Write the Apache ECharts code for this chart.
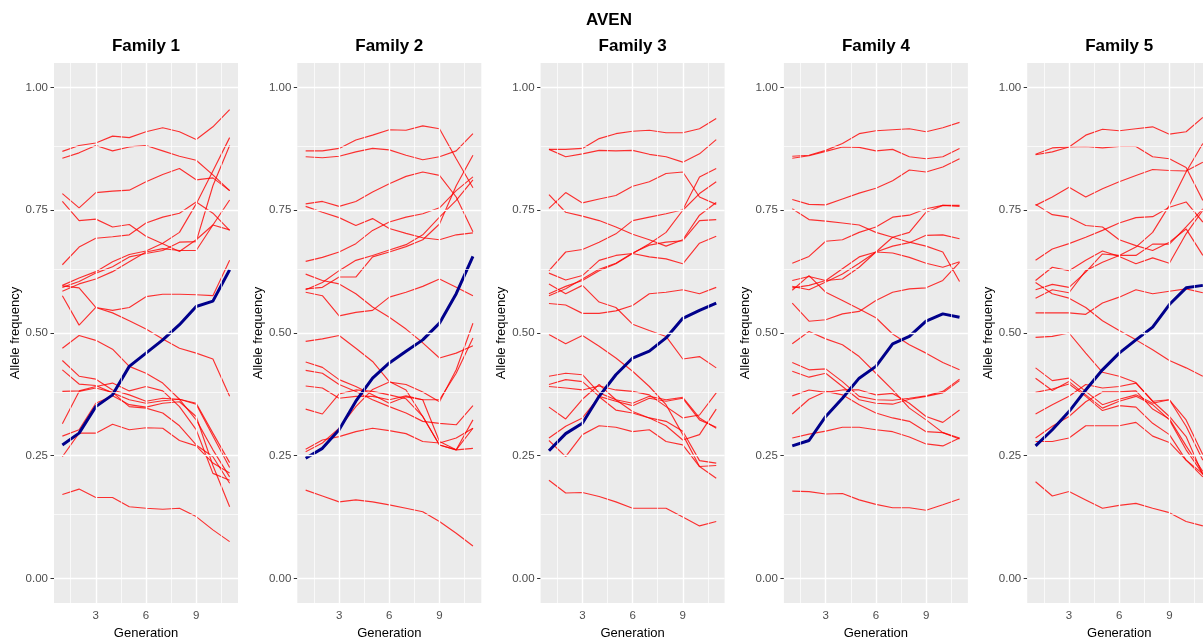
<!DOCTYPE html>
<html><head><meta charset="utf-8">
<script src="https://cdn.jsdelivr.net/npm/echarts@6/dist/echarts.min.js"></script>
<style>html,body{margin:0;padding:0;background:#fff}#c{width:1203px;height:640px}</style>
</head><body><div id="c"></div>
<script>
const mainTitle = 'AVEN';
const familyNames = ['Family 1', 'Family 2', 'Family 3', 'Family 4', 'Family 5'];
const generations = [1, 2, 3, 4, 5, 6, 7, 8, 9, 10, 11];
const xTickValues = [3, 6, 9];
const yTickValues = [0, 0.25, 0.5, 0.75, 1];
const xMinorGrid = [1.5, 4.5, 7.5, 10.5];
const yMinorGrid = [0.125, 0.375, 0.625, 0.875];

const fam1Blue = [0.272,0.296,0.350,0.374,0.432,0.459,0.486,0.517,0.554,0.565,0.629];
const fam1Red = [
  [0.870,0.882,0.887,0.901,0.898,0.910,0.918,0.910,0.894,0.920,0.955],
  [0.856,0.867,0.882,0.871,0.879,0.882,0.871,0.860,0.852,0.822,0.790],
  [0.784,0.755,0.786,0.789,0.791,0.808,0.823,0.835,0.812,0.816,0.790],
  [0.768,0.729,0.732,0.716,0.721,0.697,0.682,0.666,0.690,0.720,0.710],
  [0.639,0.675,0.693,0.696,0.700,0.724,0.736,0.744,0.767,0.744,0.709],
  [0.597,0.612,0.625,0.645,0.660,0.667,0.683,0.705,0.763,0.830,0.898],
  [0.593,0.605,0.622,0.635,0.655,0.662,0.668,0.685,0.686,0.800,0.882],
  [0.585,0.600,0.610,0.625,0.645,0.665,0.672,0.668,0.668,0.720,0.771],
  [0.596,0.592,0.552,0.541,0.525,0.508,0.488,0.469,0.459,0.447,0.371],
  [0.576,0.516,0.552,0.546,0.552,0.574,0.579,0.579,0.578,0.576,0.648],
  [0.469,0.495,0.485,0.467,0.432,0.418,0.398,0.365,0.323,0.262,0.207],
  [0.444,0.412,0.406,0.384,0.374,0.361,0.367,0.365,0.357,0.296,0.236],
  [0.425,0.396,0.393,0.378,0.364,0.357,0.362,0.365,0.355,0.290,0.226],
  [0.381,0.382,0.391,0.398,0.382,0.391,0.382,0.350,0.303,0.214,0.200],
  [0.315,0.381,0.388,0.379,0.350,0.347,0.337,0.311,0.272,0.248,0.194],
  [0.290,0.303,0.357,0.372,0.354,0.349,0.357,0.360,0.330,0.230,0.146],
  [0.248,0.296,0.296,0.314,0.303,0.307,0.306,0.281,0.270,0.235,0.215],
  [0.171,0.182,0.165,0.165,0.146,0.143,0.141,0.143,0.126,0.099,0.075]
];

const fam2Blue = [0.245,0.265,0.303,0.361,0.408,0.439,0.463,0.486,0.520,0.580,0.656];
const fam2Red = [
  [0.871,0.871,0.876,0.893,0.903,0.914,0.913,0.922,0.916,0.855,0.796],
  [0.859,0.857,0.860,0.869,0.876,0.873,0.862,0.853,0.859,0.871,0.906],
  [0.763,0.768,0.758,0.768,0.787,0.804,0.819,0.828,0.821,0.777,0.706],
  [0.758,0.746,0.735,0.719,0.733,0.713,0.703,0.694,0.690,0.700,0.704],
  [0.646,0.654,0.665,0.682,0.709,0.726,0.736,0.743,0.755,0.790,0.818],
  [0.590,0.593,0.614,0.614,0.655,0.665,0.676,0.690,0.722,0.800,0.862],
  [0.588,0.603,0.627,0.648,0.658,0.669,0.680,0.700,0.736,0.770,0.812],
  [0.583,0.576,0.535,0.542,0.546,0.573,0.583,0.595,0.610,0.593,0.576],
  [0.620,0.607,0.600,0.580,0.553,0.532,0.508,0.480,0.449,0.459,0.474],
  [0.483,0.488,0.495,0.469,0.442,0.401,0.384,0.330,0.272,0.262,0.265],
  [0.441,0.430,0.405,0.391,0.374,0.357,0.370,0.364,0.364,0.418,0.490],
  [0.424,0.418,0.395,0.381,0.364,0.350,0.337,0.320,0.316,0.313,0.352],
  [0.392,0.388,0.367,0.371,0.371,0.364,0.372,0.364,0.279,0.262,0.323],
  [0.345,0.335,0.376,0.384,0.381,0.374,0.366,0.330,0.272,0.262,0.306],
  [0.263,0.282,0.289,0.299,0.306,0.301,0.295,0.279,0.276,0.286,0.306],
  [0.258,0.276,0.306,0.350,0.385,0.400,0.395,0.380,0.360,0.425,0.520],
  [0.180,0.168,0.156,0.160,0.156,0.150,0.143,0.136,0.116,0.092,0.066]
];

const fam3Blue = [0.260,0.295,0.316,0.371,0.415,0.449,0.463,0.490,0.530,0.546,0.561];
const fam3Red = [
  [0.874,0.874,0.876,0.896,0.906,0.911,0.913,0.908,0.908,0.916,0.937],
  [0.874,0.859,0.865,0.872,0.871,0.872,0.864,0.859,0.848,0.865,0.894],
  [0.754,0.786,0.765,0.773,0.780,0.799,0.808,0.825,0.828,0.777,0.762],
  [0.782,0.746,0.738,0.729,0.716,0.701,0.690,0.677,0.690,0.740,0.766],
  [0.627,0.665,0.670,0.685,0.702,0.729,0.736,0.743,0.751,0.818,0.835],
  [0.622,0.608,0.617,0.648,0.658,0.662,0.655,0.651,0.641,0.683,0.697],
  [0.580,0.595,0.607,0.627,0.641,0.662,0.682,0.705,0.750,0.784,0.808],
  [0.576,0.590,0.610,0.630,0.642,0.663,0.679,0.685,0.688,0.729,0.731],
  [0.600,0.580,0.597,0.563,0.552,0.518,0.505,0.493,0.447,0.452,0.429],
  [0.560,0.557,0.540,0.540,0.545,0.556,0.580,0.583,0.588,0.580,0.593],
  [0.497,0.478,0.495,0.473,0.449,0.422,0.391,0.354,0.293,0.228,0.204],
  [0.412,0.418,0.415,0.378,0.364,0.357,0.371,0.364,0.369,0.327,0.306],
  [0.395,0.405,0.401,0.371,0.361,0.352,0.367,0.361,0.367,0.323,0.308],
  [0.391,0.388,0.384,0.392,0.384,0.381,0.374,0.350,0.327,0.333,0.378],
  [0.349,0.325,0.365,0.395,0.364,0.340,0.327,0.311,0.282,0.293,0.345],
  [0.286,0.310,0.327,0.370,0.343,0.337,0.327,0.320,0.300,0.240,0.235],
  [0.281,0.248,0.293,0.311,0.308,0.299,0.303,0.279,0.272,0.228,0.230],
  [0.200,0.174,0.175,0.167,0.156,0.143,0.143,0.143,0.125,0.107,0.116]
];

const fam4Blue = [0.270,0.281,0.330,0.367,0.408,0.432,0.478,0.493,0.524,0.539,0.532];
const fam4Red = [
  [0.860,0.862,0.872,0.886,0.906,0.912,0.914,0.916,0.910,0.918,0.929],
  [0.856,0.861,0.870,0.879,0.878,0.871,0.874,0.859,0.855,0.859,0.876],
  [0.772,0.762,0.761,0.773,0.785,0.795,0.810,0.832,0.828,0.838,0.855],
  [0.753,0.731,0.728,0.724,0.720,0.705,0.695,0.685,0.677,0.665,0.605],
  [0.642,0.656,0.687,0.690,0.705,0.716,0.736,0.740,0.753,0.760,0.760],
  [0.607,0.615,0.607,0.610,0.634,0.665,0.695,0.705,0.746,0.760,0.758],
  [0.595,0.588,0.604,0.620,0.642,0.665,0.677,0.684,0.699,0.700,0.692],
  [0.592,0.597,0.607,0.631,0.655,0.665,0.663,0.654,0.642,0.634,0.645],
  [0.587,0.617,0.583,0.566,0.549,0.531,0.498,0.476,0.459,0.440,0.425],
  [0.561,0.524,0.527,0.539,0.544,0.566,0.583,0.590,0.592,0.607,0.644],
  [0.478,0.503,0.488,0.476,0.452,0.418,0.384,0.347,0.323,0.297,0.286],
  [0.440,0.425,0.427,0.401,0.371,0.364,0.363,0.367,0.372,0.381,0.406],
  [0.422,0.410,0.418,0.391,0.364,0.357,0.355,0.365,0.371,0.378,0.403],
  [0.372,0.384,0.379,0.384,0.384,0.374,0.377,0.357,0.330,0.318,0.343],
  [0.335,0.365,0.381,0.374,0.354,0.337,0.327,0.320,0.299,0.297,0.284],
  [0.286,0.294,0.300,0.308,0.308,0.303,0.299,0.288,0.274,0.270,0.286],
  [0.178,0.177,0.172,0.173,0.160,0.151,0.144,0.144,0.139,0.150,0.162]
];

const fam5Blue = [0.270,0.303,0.340,0.384,0.425,0.459,0.486,0.512,0.558,0.592,0.597];
const fam5Red = [
  [0.863,0.869,0.879,0.903,0.915,0.912,0.916,0.920,0.905,0.910,0.939],
  [0.864,0.877,0.879,0.880,0.877,0.880,0.880,0.859,0.855,0.837,0.770],
  [0.760,0.777,0.797,0.777,0.794,0.808,0.821,0.833,0.831,0.830,0.848],
  [0.762,0.741,0.736,0.719,0.716,0.690,0.678,0.668,0.685,0.712,0.658],
  [0.648,0.671,0.682,0.695,0.709,0.724,0.735,0.737,0.756,0.767,0.726],
  [0.607,0.634,0.627,0.648,0.667,0.656,0.641,0.653,0.642,0.702,0.750],
  [0.588,0.599,0.593,0.624,0.661,0.658,0.658,0.681,0.681,0.716,0.753],
  [0.571,0.588,0.582,0.627,0.644,0.658,0.675,0.705,0.760,0.828,0.886],
  [0.603,0.580,0.571,0.552,0.525,0.505,0.486,0.466,0.444,0.429,0.412],
  [0.541,0.541,0.541,0.538,0.561,0.573,0.588,0.580,0.585,0.590,0.582],
  [0.491,0.493,0.500,0.459,0.420,0.412,0.399,0.361,0.364,0.323,0.252],
  [0.429,0.403,0.408,0.381,0.354,0.365,0.374,0.357,0.364,0.310,0.241],
  [0.408,0.383,0.401,0.374,0.347,0.361,0.371,0.354,0.323,0.262,0.213],
  [0.379,0.386,0.396,0.371,0.342,0.352,0.349,0.316,0.293,0.241,0.207],
  [0.335,0.354,0.371,0.395,0.388,0.391,0.398,0.361,0.330,0.289,0.211],
  [0.286,0.310,0.330,0.360,0.380,0.380,0.382,0.345,0.325,0.270,0.218],
  [0.279,0.279,0.286,0.311,0.311,0.311,0.318,0.290,0.277,0.241,0.213],
  [0.197,0.168,0.177,0.160,0.143,0.149,0.153,0.143,0.134,0.116,0.107]
];

const redSets = [fam1Red, fam2Red, fam3Red, fam4Red, fam5Red];
const blueSets = [fam1Blue, fam2Blue, fam3Blue, fam4Blue, fam5Blue];

const FONT = '"Liberation Sans", Arial, Helvetica, sans-serif';
const PANEL_LEFT0 = 54, PANEL_STEP = 243.3, PANEL_W = 184, PANEL_TOP = 63, PANEL_H = 540;

const grids = [], xAxes = [], yAxes = [], titles = [], series = [];
titles.push({text: mainTitle, left: 609, top: 12, textAlign: 'center', padding: 0,
  textStyle: {fontFamily: FONT, fontSize: 17, fontWeight: 'bold', color: '#000'}});

familyNames.forEach((name, i) => {
  const left = PANEL_LEFT0 + i * PANEL_STEP;
  grids.push({left: left, top: PANEL_TOP, width: PANEL_W, height: PANEL_H, show: true,
    outerBoundsMode: 'none',
    backgroundColor: '#EBEBEB', borderWidth: 0, borderColor: 'transparent', containLabel: false});
  titles.push({text: name, left: left + PANEL_W / 2, top: 38, textAlign: 'center', padding: 0,
    textStyle: {fontFamily: FONT, fontSize: 17, fontWeight: 'bold', color: '#000'}});
  xAxes.push({type: 'value', gridIndex: i, min: 0.5, max: 11.5,
    axisLine: {show: false}, splitLine: {show: false},
    axisTick: {show: true, customValues: xTickValues, length: 3.5, lineStyle: {color: '#333333', width: 1}},
    axisLabel: {customValues: xTickValues, color: '#4D4D4D', fontSize: 11.5, fontFamily: FONT, margin: 7},
    name: 'Generation', nameLocation: 'middle', nameGap: 24,
    nameTextStyle: {fontFamily: FONT, fontSize: 13, color: '#000'}});
  yAxes.push({type: 'value', gridIndex: i, min: -0.05, max: 1.05,
    axisLine: {show: false}, splitLine: {show: false},
    axisTick: {show: true, customValues: yTickValues, length: 3.5, lineStyle: {color: '#333333', width: 1}},
    axisLabel: {customValues: yTickValues, color: '#4D4D4D', fontSize: 11.5, fontFamily: FONT, margin: 6,
      formatter: v => Number(v).toFixed(2)},
    name: 'Allele frequency', nameLocation: 'middle', nameGap: 27, nameRotate: 90,
    nameTextStyle: {fontFamily: FONT, fontSize: 13, color: '#000'}});

  const gridLines = [];
  xMinorGrid.forEach(v => gridLines.push({xAxis: v, lineStyle: {color: '#FFFFFF', width: 0.7, type: 'solid'}}));
  yMinorGrid.forEach(v => gridLines.push({yAxis: v, lineStyle: {color: '#FFFFFF', width: 0.7, type: 'solid'}}));
  xTickValues.forEach(v => gridLines.push({xAxis: v, lineStyle: {color: '#FFFFFF', width: 1.4, type: 'solid'}}));
  yTickValues.forEach(v => gridLines.push({yAxis: v, lineStyle: {color: '#FFFFFF', width: 1.4, type: 'solid'}}));
  series.push({type: 'line', xAxisIndex: i, yAxisIndex: i, data: [], z: 1, silent: true, animation: false,
    markLine: {silent: true, symbol: ['none', 'none'], label: {show: false}, animation: false,
      emphasis: {disabled: true}, data: gridLines}});

  redSets[i].forEach(vals => {
    series.push({type: 'line', xAxisIndex: i, yAxisIndex: i, z: 2, silent: true, animation: false,
      showSymbol: false, symbol: 'none', clip: true,
      lineStyle: {color: '#FF0000', width: 1.15, opacity: 0.8},
      data: generations.map((g, k) => [g, vals[k]])});
  });
  series.push({type: 'line', xAxisIndex: i, yAxisIndex: i, z: 3, silent: true, animation: false,
    showSymbol: false, symbol: 'none', clip: true,
    lineStyle: {color: '#00008B', width: 3},
    data: generations.map((g, k) => [g, blueSets[i][k]])});
});

const chart = echarts.init(document.getElementById('c'), null, {renderer: 'canvas'});
chart.setOption({
  backgroundColor: '#FFFFFF',
  animation: false,
  title: titles,
  grid: grids,
  xAxis: xAxes,
  yAxis: yAxes,
  series: series
});
</script>
</body></html>
